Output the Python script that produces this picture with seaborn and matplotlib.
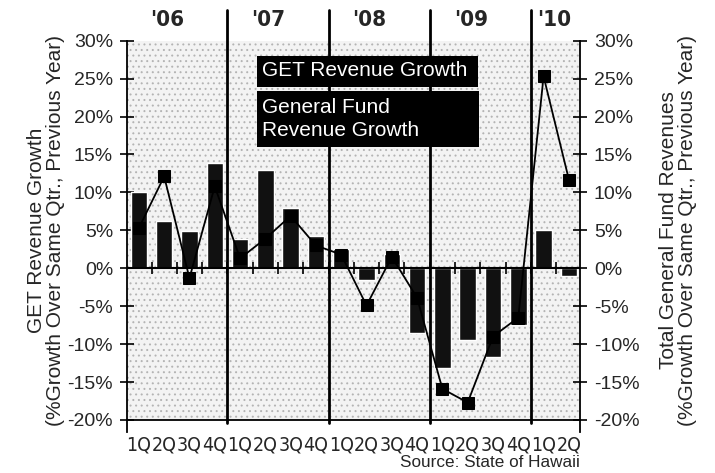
import numpy as np
import pandas as pd
import matplotlib
matplotlib.use("Agg")
import matplotlib.pyplot as plt
from matplotlib import font_manager
from matplotlib.font_manager import FontProperties
from matplotlib.patches import Rectangle
import seaborn as sns

# Quarter labels along the x axis, 1Q 2006 .. 2Q 2010
quarters = ["1Q", "2Q", "3Q", "4Q"] * 4 + ["1Q", "2Q"]
years = ["'06", "'07", "'08", "'09", "'10"]

# GET revenue growth (bars, left axis), % vs same quarter previous year
get_growth = [10.0, 6.2, 4.9, 13.9,
              3.8, 12.9, 7.9, 4.3,
              2.6, -1.6, 1.9, -8.5,
              -13.1, -9.4, -11.7, -7.5,
              5.0, -1.0]

# General fund revenue growth (line with squares, right axis)
gf_growth = [5.3, 12.1, -1.3, 10.8,
             1.3, 3.9, 6.9, 3.0,
             1.8, -4.9, 1.5, -3.9,
             -15.9, -17.7, -9.0, -6.5,
             25.3, 11.7]

y_ticks = [-20, -15, -10, -5, 0, 5, 10, 15, 20, 25, 30]

sns.set_style("white")
plt.rcParams['font.family'] = ['Liberation Sans', 'DejaVu Sans']
plt.rcParams['hatch.linewidth'] = 0.7


def condensed_font(bold=False):
    """ Looks for a narrow sans face; falls back to Liberation Sans. """
    prefer = ['Liberation Sans Narrow', 'DejaVu Sans', 'Noto Sans',
              'Roboto', 'Open Sans', 'Lato', 'Inter']
    found = []
    for f in font_manager.fontManager.ttflist:
        tag = (f.name + ' ' + f.fname).lower()
        narrow = ('condensed' in str(f.stretch).lower() or 'narrow' in tag
                  or 'condensed' in tag)
        if not narrow or f.style != 'normal':
            continue
        if 'mono' in tag or 'serif' in tag.replace('sans', ''):
            continue
        if 'extra' in tag or 'ultra' in tag or 'semi' in tag:
            continue
        w = f.weight if isinstance(f.weight, int) else (700 if 'bold' in str(f.weight) else 400)
        if bold != (w >= 600):
            continue
        if not bold and w < 350:
            continue
        rank = next((i for i, p in enumerate(prefer) if f.name.startswith(p)), 99)
        found.append((rank, f.fname))
    if found:
        found.sort()
        return FontProperties(fname=found[0][1]), True
    return FontProperties(family='Liberation Sans',
                          weight='bold' if bold else 'normal'), False


tick_font, tick_narrow = condensed_font()
year_font, year_narrow = condensed_font(bold=True)

df = pd.DataFrame({
    "pos": np.arange(len(quarters)),
    "get": get_growth,
    "gf": gf_growth,
})

fig = plt.figure(figsize=(7.15, 4.73), dpi=100)
ax = fig.add_axes([0.1776, 0.1121, 0.6336, 0.8019])
ax.set_facecolor('#f3f3f3')
# stippled plot background
ax.add_patch(Rectangle((0, 0), 1, 1, transform=ax.transAxes, facecolor='none',
                       hatch='...', edgecolor='#b4b4b4', lw=0, zorder=0))

sns.barplot(data=df, x="pos", y="get", native_scale=True, color="#111111",
            saturation=1, width=0.65, errorbar=None, ax=ax, zorder=3)

ax2 = ax.twinx()
sns.lineplot(data=df, x="pos", y="gf", ax=ax2, color="black", lw=1.3,
             marker="s", markersize=9, markeredgecolor="black")

for a in (ax, ax2):
    a.set_ylim(-20, 30)
    a.set_xlim(-0.47, len(quarters) - 1 + 0.44)
    a.set_yticks(y_ticks)
    a.set_yticklabels([f"{v}%" for v in y_ticks])
    a.tick_params(axis='y', direction='inout', length=10, width=1.2,
                  labelsize=14, pad=5, color='black')
    a.spines['top'].set_visible(False)

ax.spines['right'].set_visible(False)
ax2.spines['left'].set_visible(False)
ax2.spines['bottom'].set_visible(False)
ax.spines['left'].set_bounds(-21.6, 30)
ax2.spines['right'].set_bounds(-21.6, 30)
for s in ('left', 'bottom'):
    ax.spines[s].set_linewidth(1.3)
    ax.spines[s].set_color('black')
ax2.spines['right'].set_linewidth(1.3)
ax2.spines['right'].set_color('black')

# zero line with small ticks between quarters
ax.axhline(0, color='black', lw=1.5, zorder=4)
halfs = df["pos"].values[:-1] + 0.5
ax.plot(halfs, np.zeros(len(halfs)), ls='none', marker='|', ms=9, mew=1.2,
        color='black', zorder=4)

# year dividers and year labels
n_years = len(years)
for k in range(n_years):
    start = 4 * k
    if k > 0:
        ax.axvline(start - 0.5, ymin=-0.008, ymax=1.08, clip_on=False,
                   color='black', lw=2, zorder=5)
    xl = start - 0.5 + (0.95 if k < n_years - 1 else 0.25)
    t = ax.text(xl, 1.055, years[k], transform=ax.get_xaxis_transform(),
                ha='left', va='center', fontproperties=year_font)
    t.set_fontsize(16 if year_narrow else 15)

ax.set_xticks(df["pos"])
ax.set_xticklabels(quarters)
for lab in ax.get_xticklabels():
    lab.set_fontproperties(tick_font)
    lab.set_fontsize(14 if tick_narrow else 12)
ax.tick_params(axis='x', length=0, pad=11)
ax.set_xlabel("")
ax2.set_xlabel("")

ax.set_ylabel("GET Revenue Growth\n(%Growth Over Same Qtr., Previous Year)",
              fontsize=15, linespacing=1.0, labelpad=2)
ax2.set_ylabel("Total General Fund Revenues\n(%Growth Over Same Qtr., Previous Year)",
               fontsize=15, linespacing=1.0, labelpad=14)

# legend boxes (black with white text)
fig.add_artist(Rectangle((0.359, 0.8167), 0.310, 0.0649, transform=fig.transFigure,
                         facecolor='black', edgecolor='none', zorder=10))
fig.add_artist(Rectangle((0.359, 0.6886), 0.311, 0.119, transform=fig.transFigure,
                         facecolor='black', edgecolor='none', zorder=10))
fig.text(0.366, 0.850, "GET Revenue Growth", color='white', fontsize=15,
         ha='left', va='center', zorder=11)
fig.text(0.366, 0.773, "General Fund", color='white', fontsize=15,
         ha='left', va='center', zorder=11)
fig.text(0.366, 0.725, "Revenue Growth", color='white', fontsize=15,
         ha='left', va='center', zorder=11)

fig.text(580 / 715, 1 - 462 / 473, "Source: State of Hawaii", ha='right',
         va='center', fontsize=12.3)

fig.savefig("out.png", dpi=100)
